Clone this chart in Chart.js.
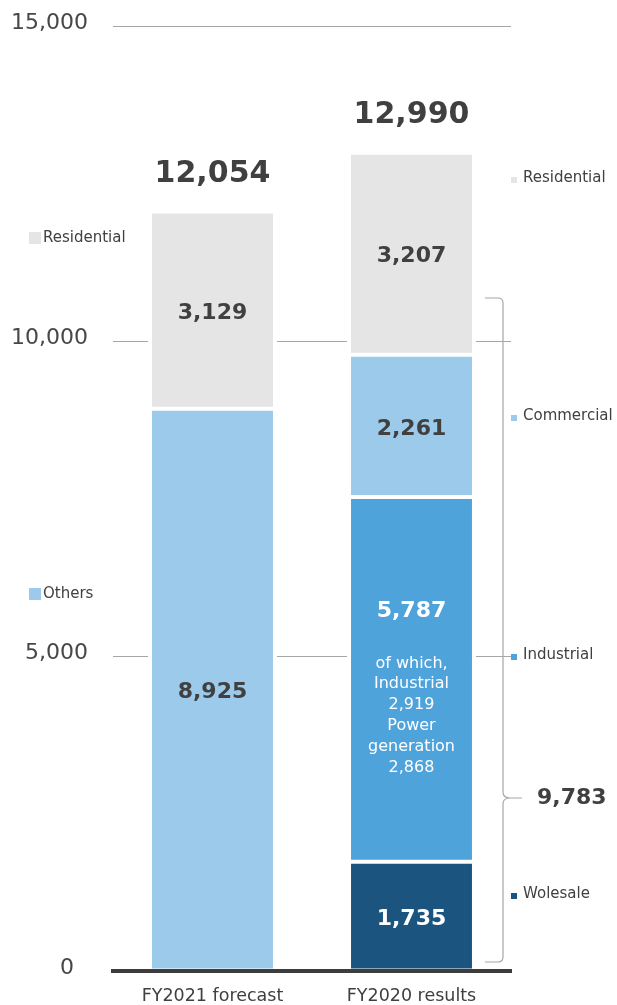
<!DOCTYPE html>
<html>
<head>
<meta charset="utf-8">
<script src="https://cdn.jsdelivr.net/npm/chart.js@4.4.1/dist/chart.umd.min.js"></script>
<style>
  html, body { margin: 0; padding: 0; background: #ffffff; }
  #wrap { width: 617px; height: 1005px; }
</style>
</head>
<body>
<div id="wrap"><canvas id="salesChart" width="617" height="1005"></canvas></div>
<script>
// Electricity sales volume, stacked by customer segment
var categories = ['FY2021 forecast', 'FY2020 results'];
var others = [8925, null];
var wolesale = [null, 1735];
var industrial = [null, 5787];
var commercial = [null, 2261];
var residential = [3129, 3207];
var industrialParts = ['Industrial', 'Power generation'];
var industrialPartValues = [2919, 2868];
var yTicks = [0, 5000, 10000, 15000];

var FONT = '"DejaVu Sans", Verdana, sans-serif';
var TEXT = '#404040';
var COLORS = {
    residential: '#e5e5e5',
    others: '#9ccaea',
    commercial: '#9ccaea',
    industrial: '#4fa3db',
    wolesale: '#1b557f'
};

function fmt(v) {
    return Number(v).toLocaleString('en-US');
}

// legend tags placed beside the bars (pixel y of the text middle)
var sideTags = [
    { text: 'Residential', color: COLORS.residential, y: 238, side: 'left' },
    { text: 'Others', color: COLORS.others, y: 594, side: 'left' },
    { text: 'Residential', color: COLORS.residential, y: 178, side: 'right' },
    { text: 'Commercial', color: COLORS.commercial, y: 416, side: 'right' },
    { text: 'Industrial', color: COLORS.industrial, y: 655, side: 'right' },
    { text: 'Wolesale', color: COLORS.wolesale, y: 894, side: 'right' }
];

var labelPlugin = {
    id: 'segmentLabels',
    afterDatasetsDraw: function(chart) {
        var ctx = chart.ctx;
        var yScale = chart.scales.y;
        var xScale = chart.scales.x;
        var area = chart.chartArea;
        ctx.save();
        ctx.textAlign = 'center';
        ctx.textBaseline = 'middle';

        // values inside each segment
        chart.data.datasets.forEach(function(ds, i) {
            var meta = chart.getDatasetMeta(i);
            meta.data.forEach(function(bar, j) {
                var v = ds.data[j];
                if (v == null) return;
                var mid = (bar.y + bar.base) / 2;
                ctx.fillStyle = ds.labelColor;
                ctx.font = 'bold 22px ' + FONT;
                if (ds.label === 'Industrial') {
                    ctx.fillText(fmt(v), bar.x, mid - 68);
                    var lines = ['of which,'];
                    industrialParts.forEach(function(p, k) {
                        p.split(' ').forEach(function(w) { lines.push(w); });
                        lines.push(fmt(industrialPartValues[k]));
                    });
                    ctx.font = '16px ' + FONT;
                    lines.forEach(function(t, k) {
                        ctx.fillText(t, bar.x, mid - 16 + k * 20.8);
                    });
                } else {
                    ctx.fillText(fmt(v), bar.x, mid + 3);
                }
            });
        });

        // totals above the stacks
        categories.forEach(function(c, j) {
            var total = 0;
            chart.data.datasets.forEach(function(ds) { total += ds.data[j] || 0; });
            ctx.font = 'bold 30px ' + FONT;
            ctx.fillStyle = TEXT;
            ctx.fillText(fmt(total), xScale.getPixelForValue(j), yScale.getPixelForValue(total) - 37);
        });

        // side tags
        ctx.textAlign = 'left';
        sideTags.forEach(function(t) {
            ctx.font = '15px ' + FONT;
            if (t.side === 'left') {
                ctx.fillStyle = t.color;
                ctx.fillRect(29, t.y - 6, 12, 12);
                ctx.fillStyle = TEXT;
                ctx.fillText(t.text, 43, t.y);
            } else {
                ctx.fillStyle = t.color;
                ctx.fillRect(area.right, t.y - 1, 6, 6);
                ctx.fillStyle = TEXT;
                ctx.fillText(t.text, area.right + 12, t.y);
            }
        });

        // brace grouping the non-residential part of FY2020
        var bx = area.right - 8, top = 298, bottom = 962, tip = 798;
        ctx.strokeStyle = '#a6a6a6';
        ctx.lineWidth = 1.2;
        ctx.beginPath();
        ctx.moveTo(bx - 18, top);
        ctx.lineTo(bx - 5, top);
        ctx.quadraticCurveTo(bx, top, bx, top + 5);
        ctx.lineTo(bx, tip - 6);
        ctx.quadraticCurveTo(bx, tip, bx + 7, tip);
        ctx.lineTo(bx + 19, tip);
        ctx.moveTo(bx + 7, tip);
        ctx.quadraticCurveTo(bx, tip, bx, tip + 6);
        ctx.lineTo(bx, bottom - 5);
        ctx.quadraticCurveTo(bx, bottom, bx - 5, bottom);
        ctx.lineTo(bx - 18, bottom);
        ctx.stroke();

        var group = wolesale[1] + industrial[1] + commercial[1];
        ctx.font = 'bold 22px ' + FONT;
        ctx.fillStyle = TEXT;
        ctx.fillText(fmt(group), bx + 34, tip);
        ctx.restore();
    }
};

function makeSet(label, data, color, labelColor) {
    return {
        label: label,
        data: data,
        backgroundColor: color,
        borderColor: '#ffffff',
        borderWidth: { top: 2, bottom: 2, left: 4, right: 4 },
        borderSkipped: false,
        labelColor: labelColor,
        barPercentage: 0.648,
        categoryPercentage: 1
    };
}

var ctx = document.getElementById('salesChart').getContext('2d');
var salesChart = new Chart(ctx, {
    type: 'bar',
    data: {
        labels: categories,
        datasets: [
            makeSet('Others', others, COLORS.others, TEXT),
            makeSet('Wolesale', wolesale, COLORS.wolesale, '#ffffff'),
            makeSet('Industrial', industrial, COLORS.industrial, '#ffffff'),
            makeSet('Commercial', commercial, COLORS.commercial, TEXT),
            makeSet('Residential', residential, COLORS.residential, TEXT)
        ]
    },
    options: {
        responsive: false,
        animation: false,
        devicePixelRatio: 1,
        layout: { padding: { left: 0, right: 106, top: 26, bottom: 0 } },
        plugins: {
            legend: { display: false },
            tooltip: { enabled: false }
        },
        scales: {
            x: {
                stacked: true,
                grid: { display: false, drawTicks: false },
                border: { display: true, color: '#3d3d3d', width: 4, z: 1 },
                ticks: {
                    padding: 15,
                    color: TEXT,
                    font: { family: FONT, size: 17.5 }
                },
                afterFit: function(scale) { scale.height = 34; }
            },
            y: {
                stacked: true,
                min: yTicks[0],
                max: yTicks[yTicks.length - 1],
                afterBuildTicks: function(scale) {
                    scale.ticks = yTicks.map(function(v) { return { value: v }; });
                },
                grid: { color: '#a6a6a6', lineWidth: 1, drawTicks: false },
                border: { display: false },
                ticks: {
                    padding: 25,
                    labelOffset: -3,
                    color: '#474747',
                    font: { family: FONT, size: 22 },
                    callback: function(v) {
                        return v === 0 ? '0\u00a0\u00a0' : fmt(v);
                    }
                },
                afterFit: function(scale) {
                    // tick padding is horizontal here; don't let it push the plot area in
                    scale.width = 113;
                    scale.paddingTop = 0;
                    scale.paddingBottom = 0;
                }
            }
        }
    },
    plugins: [labelPlugin]
});
</script>
</body>
</html>
